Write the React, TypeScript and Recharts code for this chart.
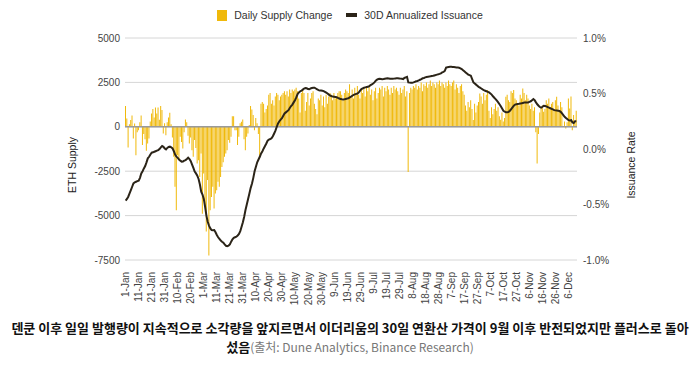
import React from "react";
import { Bar, CartesianGrid, ComposedChart, Line, ReferenceLine, XAxis, YAxis } from "recharts";

const MONTHS = ["Jan", "Feb", "Mar", "Apr", "May", "Jun", "Jul", "Aug", "Sep", "Oct", "Nov", "Dec"];
const DAYS_IN_MONTH = [31, 29, 31, 30, 31, 30, 31, 31, 30, 31, 30, 31];

// daily net ETH supply change, 1-Jan .. 12-Dec
const SUPPLY_CHANGE = [
  1170, 470, -1170, 150, 380, 640, -660, 190, -1600, -300,
  -190, 250, 640, -1030, -400, -700, -1350, -940, -660, 300,
  750, 1000, 530, 1090, 750, 1090, 400, 1170, 940, -380,
  200, -470, 250, 530, 790, 150, -600, -1690, -3380, -4700,
  -1600, -1880, -560, -850, -1220, -300, 410, 250, -500, -940,
  -600, -1320, -1690, -750, -1200, -2070, -1880, -2820, -1500, -4900,
  -2630, -4420, -5900, -3000, -7250, -4700, -3950, -3380, -4600, -3760,
  -3570, -3100, -3380, -2820, -2260, -2000, -1690, -1500, -1320, -750,
  -900, -560, 600, 600, -200, -190, -1030, -560, 200, 280,
  410, -700, -1320, -560, -380, 100, 1170, 980, 660, -190,
  500, 200, -400, -1690, 1300, 1400, 1300, 800, 1000, 1200,
  1800, 1900, 1300, 1500, 1200, 1700, 1900, 1800, 1500, 1700,
  1800, 1900, 2000, 1800, 2000, 1700, 2100, 1900, 2100, 2000,
  2100, 2200, 2000, 1600, 800, 1900, 2100, 1900, 900, 1400,
  1900, 1200, 1600, 1900, 2000, 1300, 1000, 700, 1600, 1500,
  1800, 1200, 1700, 1100, 1800, 1300, 1700, 1900, 1800, 1500,
  1900, 1600, 1700, 1900, 2000, 2000, 1800, 1500, 1900, 2100,
  2000, 1900, 2400, 1700, 2100, 1600, 2200, 1900, 2300, 1800,
  1600, 2100, 1900, 2200, 1700, 2200, 2000, 2300, 1800, 2100,
  1500, 2000, 2200, 1600, 1900, 2200, 2100, 2300, 1700, 2200,
  2000, 2300, 2100, 1800, 2200, 1900, 2300, 2100, 2200, 2000,
  1800, 2200, 1900, 2100, 2300, 1700, 2000, -2550, 1900, 2200,
  2100, 2300, 2200, 2400, 2100, 2300, 2200, 2500, 2000, 2400,
  2300, 2500, 2200, 2400, 2600, 2300, 2500, 2400, 2200, 2500,
  2400, 2600, 2300, 2500, 2400, 2200, 2500, 2300, 2600, 2400,
  2300, 2500, 2600, 2100, 2400, 2200, 1900, 2300, 2400, 2000,
  1800, 1200, 900, 1400, 1100, 1500, 1000, 380, 1300, 800,
  1200, 1400, 1880, 1700, 1300, 1900, 1500, 1800, 2070, 900,
  500, 1100, 700, 1000, 1300, 900, 1100, 600, 400, 800,
  300, 500, 1690, 1800, 1500, 1400, 2000, 1900, 2070, 1600,
  1500, 1300, 1200, 1800, 1600, 2160, 1900, 1500, 1800, 1600,
  1200, 1000, 1300, 900, 1100, -300, -2070, -410, 800, 1100,
  1200, 850, 1000, 1500, 1300, 1600, 1100, 1300, 1400, 1000,
  1500, 1690, 1200, 900, 1400, 1100, 50, 300, -100, 250,
  1600, 1030, 1700, -190, 660, 300, 900,
];

// 30D annualized issuance, %
const ISSUANCE = [
  -0.465, -0.45, -0.43, -0.4, -0.37, -0.34, -0.31, -0.3, -0.295, -0.29,
  -0.285, -0.26, -0.22, -0.2, -0.175, -0.153, -0.12, -0.084, -0.07, -0.05,
  -0.033, -0.03, -0.025, -0.02, -0.015, -0.01, 0.0, 0.015, 0.027, 0.02,
  0.005, -0.003, 0.01, 0.018, 0.021, 0.015, 0.005, -0.02, -0.05, -0.069,
  -0.08, -0.095, -0.105, -0.114, -0.112, -0.105, -0.1, -0.09, -0.078, -0.09,
  -0.11, -0.14, -0.17, -0.204, -0.22, -0.24, -0.27, -0.32, -0.385, -0.41,
  -0.45, -0.52, -0.6, -0.655, -0.69, -0.715, -0.73, -0.732, -0.73, -0.75,
  -0.775, -0.795, -0.81, -0.825, -0.835, -0.844, -0.86, -0.872, -0.875, -0.87,
  -0.86, -0.835, -0.814, -0.8, -0.795, -0.79, -0.78, -0.765, -0.74, -0.7,
  -0.66, -0.61, -0.55, -0.5, -0.45, -0.4, -0.35, -0.31, -0.26, -0.2,
  -0.16, -0.12, -0.095, -0.07, -0.04, -0.02, 0.005, 0.027, 0.05, 0.075,
  0.085, 0.09, 0.096, 0.115, 0.14, 0.165, 0.2, 0.231, 0.25, 0.265,
  0.277, 0.3, 0.32, 0.33, 0.34, 0.35, 0.37, 0.387, 0.4, 0.42,
  0.44, 0.465, 0.495, 0.51, 0.52, 0.525, 0.535, 0.545, 0.55, 0.547,
  0.54, 0.538, 0.545, 0.55, 0.552, 0.552, 0.545, 0.538, 0.53, 0.528,
  0.527, 0.525, 0.522, 0.515, 0.508, 0.5, 0.49, 0.482, 0.477, 0.472,
  0.47, 0.468, 0.466, 0.46, 0.455, 0.45, 0.448, 0.447, 0.448, 0.45,
  0.455, 0.457, 0.465, 0.472, 0.48, 0.487, 0.492, 0.497, 0.5, 0.51,
  0.525, 0.54, 0.547, 0.552, 0.555, 0.558, 0.56, 0.567, 0.575, 0.582,
  0.59, 0.6, 0.615, 0.625, 0.63, 0.632, 0.63, 0.628, 0.63, 0.633,
  0.635, 0.637, 0.635, 0.633, 0.632, 0.632, 0.634, 0.636, 0.637, 0.637,
  0.636, 0.634, 0.632, 0.63, 0.64, 0.645, 0.65, 0.6, 0.598, 0.597,
  0.597, 0.6, 0.605, 0.61, 0.613, 0.618, 0.624, 0.63, 0.637, 0.64,
  0.645, 0.648, 0.65, 0.653, 0.655, 0.658, 0.66, 0.663, 0.666, 0.67,
  0.673, 0.677, 0.682, 0.69, 0.695, 0.703, 0.733, 0.736, 0.738, 0.74,
  0.74, 0.739, 0.738, 0.737, 0.735, 0.734, 0.732, 0.727, 0.72, 0.71,
  0.7, 0.69, 0.68, 0.67, 0.665, 0.66, 0.63, 0.6, 0.59, 0.58,
  0.57, 0.56, 0.553, 0.545, 0.537, 0.53, 0.525, 0.52, 0.515, 0.51,
  0.5, 0.49, 0.475, 0.462, 0.45, 0.435, 0.42, 0.403, 0.385, 0.365,
  0.345, 0.336, 0.33, 0.33, 0.335, 0.345, 0.36, 0.375, 0.39, 0.4,
  0.403, 0.405, 0.407, 0.41, 0.412, 0.415, 0.418, 0.42, 0.42, 0.42,
  0.425, 0.43, 0.44, 0.45, 0.44, 0.42, 0.403, 0.39, 0.378, 0.372,
  0.38, 0.39, 0.388, 0.384, 0.378, 0.372, 0.367, 0.362, 0.356, 0.35,
  0.348, 0.346, 0.344, 0.342, 0.335, 0.32, 0.305, 0.29, 0.28, 0.27,
  0.26, 0.258, 0.26, 0.24, 0.235, 0.25, 0.25,
];

const SUPPLY_TICKS = [-7500, -5000, -2500, 0, 2500, 5000];
const RATE_TICKS = [-1, -0.5, 0, 0.5, 1];

const YELLOW = "#F0B90B";
const LINE = "#2b2418";
const TICK = "#444";
const FONT = "'Liberation Sans', Arial, sans-serif";
const KR_FONT = "'Noto Sans CJK KR', sans-serif";

const dates: string[] = [];
MONTHS.forEach((m, i) => {
  for (let d = 1; d <= DAYS_IN_MONTH[i]; d++) dates.push(`${d}-${m}`);
});

const data = SUPPLY_CHANGE.map((v, i) => ({ date: dates[i], supply: v, issuance: ISSUANCE[i] }));

const DateTick = ({ x, y, payload }: any) => (
  <g transform={`translate(${x},${y})`}>
    <text transform="rotate(-90)" x={-4} dy="0.35em" textAnchor="end" fontSize={10} fill={TICK} fontFamily={FONT}>
      {payload.value}
    </text>
  </g>
);

const sideLabel = (text: string, dx: number) => ({ viewBox }: any) => {
  const cx = viewBox.x + dx;
  const cy = viewBox.y + viewBox.height / 2 + 16;
  return (
    <text x={cx} y={cy} transform={`rotate(-90 ${cx} ${cy})`} textAnchor="middle" dominantBaseline="central" fontSize={10.5} fill="#222" fontFamily={FONT}>
      {text}
    </text>
  );
};

export default function App() {
  return (
    <div style={{ position: "absolute", left: 0, top: 0, width: 700, height: 366, background: "#fff", fontFamily: FONT }}>
      <div style={{ position: "absolute", top: 9, left: 0, width: 700, display: "flex", justifyContent: "center", alignItems: "center", fontSize: 10.5, color: "#333" }}>
        <span style={{ width: 10, height: 11, background: YELLOW, display: "inline-block", marginRight: 7 }} />
        <span style={{ marginRight: 14 }}>Daily Supply Change</span>
        <span style={{ width: 11, height: 4, background: LINE, display: "inline-block", marginRight: 7 }} />
        <span>30D Annualized Issuance</span>
      </div>

      <ComposedChart width={700} height={310} data={data} margin={{ top: 38, right: 63, bottom: 5, left: 65 }} barCategoryGap={0}>
        <CartesianGrid yAxisId="left" vertical={false} stroke="#d6d6d6" />
        <XAxis dataKey="date" interval={9} height={45} axisLine={false} tickLine={false} tick={<DateTick />} />
        <YAxis
          yAxisId="left"
          domain={[-7500, 5000]}
          ticks={SUPPLY_TICKS}
          width={60}
          axisLine={false}
          tickLine={false}
          tickSize={3}
          tickMargin={2}
          tick={{ fontSize: 10, fill: TICK, fontFamily: FONT }}
          label={{ content: sideLabel("ETH Supply", 7) }}
        />
        <YAxis
          yAxisId="right"
          orientation="right"
          domain={[-1, 1]}
          ticks={RATE_TICKS}
          width={60}
          axisLine={false}
          tickLine={false}
          tickSize={4}
          tickMargin={2}
          tickFormatter={(v: number) => `${v.toFixed(1)}%`}
          tick={{ fontSize: 10, fill: TICK, fontFamily: FONT }}
          label={{ content: sideLabel("Issuance Rate", 54) }}
        />
        <Bar yAxisId="left" dataKey="supply" fill={YELLOW} isAnimationActive={false} />
        <ReferenceLine yAxisId="left" y={0} stroke="#9a9a9a" strokeWidth={1.5} />
        <Line yAxisId="right" dataKey="issuance" type="linear" stroke={LINE} strokeWidth={2} dot={false} isAnimationActive={false} />
      </ComposedChart>

      <div style={{ position: "absolute", top: 318, left: 0, width: 700, textAlign: "center", fontFamily: KR_FONT, fontSize: 13, lineHeight: "19px", color: "#111" }}>
        <div style={{ fontWeight: 700, whiteSpace: "nowrap" }}>덴쿤 이후 일일 발행량이 지속적으로 소각량을 앞지르면서 이더리움의 30일 연환산 가격이 9월 이후 반전되었지만 플러스로 돌아</div>
        <div style={{ whiteSpace: "nowrap" }}>
          <span style={{ fontWeight: 700 }}>섰음</span>
          <span style={{ color: "#777", fontSize: 12 }}>(출처: Dune Analytics, Binance Research)</span>
        </div>
      </div>
    </div>
  );
}
